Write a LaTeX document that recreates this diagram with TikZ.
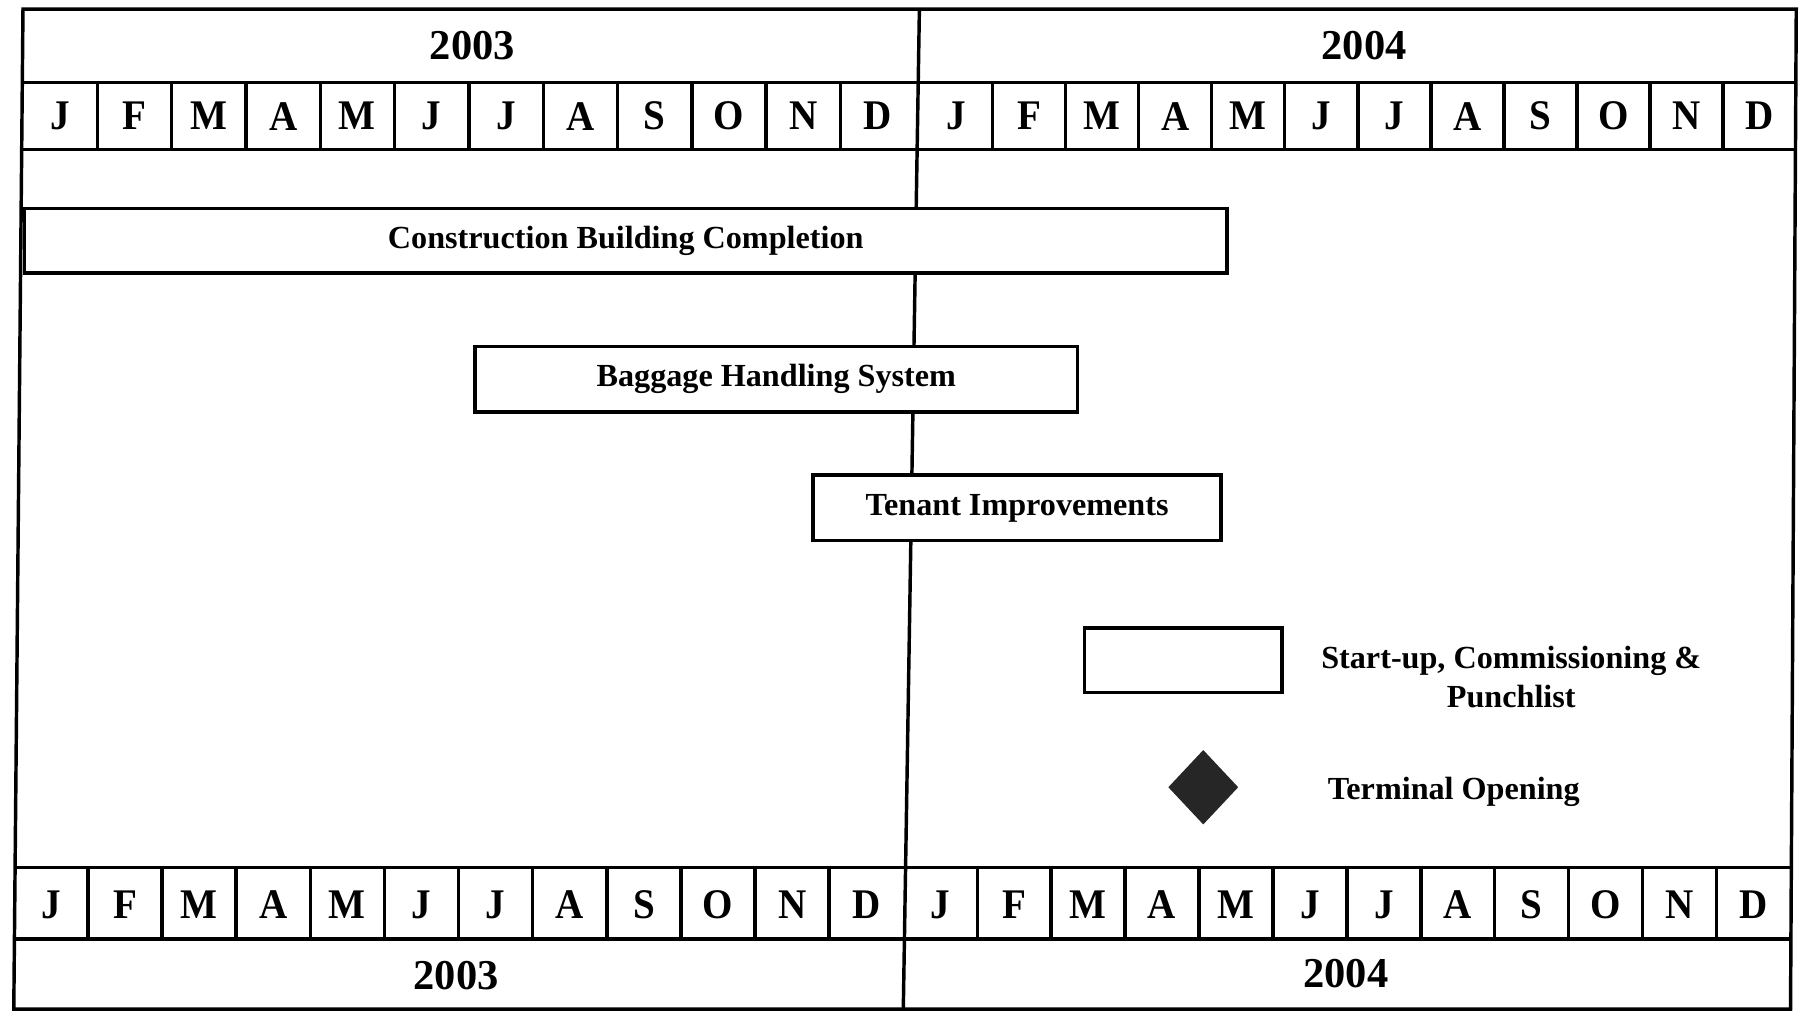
\documentclass[tikz,border=0pt]{standalone}
\usepackage{fontspec}
\setmainfont{Liberation Serif}
\usetikzlibrary{shapes.geometric}
\begin{document}
\begin{tikzpicture}[x=1pt,y=-1pt,line width=3pt,
  yr/.style={font=\fontsize{37}{40}\selectfont\bfseries,inner sep=0},
  mo/.style={font=\fontsize{34}{40}\selectfont\bfseries,inner sep=0,yscale=1.08},
  bar/.style={draw,fill=white,inner sep=0,font=\fontsize{28}{32}\selectfont\bfseries},
  lg/.style={font=\fontsize{28}{34}\selectfont\bfseries,align=center,inner sep=0},
  grid/.style={line width=3pt}]
\useasboundingbox (0,0) rectangle (1568,880);
\fill[white] (0,0) rectangle (1568,880);
% frame and year divider
\draw[grid] (20,8) -- (1563,8) -- (1558,878) -- (12,878) -- cycle;
\draw[grid] (800,8) -- (786,878);
% top rows
\draw[grid] (20,72) -- (1563,72);
\draw[grid] (19,130) -- (1562,130);
\node[yr] (y3t) at (411,40) {2003};
\node[yr] (y4t) at (1187,40) {2004};
\foreach \m [count=\i] in {J,F,M,A,M,J,J,A,S,O,N,D} {
  \pgfmathsetmacro\xa{20+(\i-0.5)*64.67}
  \pgfmathsetmacro\xb{800+(\i-0.5)*63.58}
  \node[mo] (ta\i) at (\xa,101) {\m};
  \node[mo] (tb\i) at (\xb,101) {\m};
}
\foreach \i in {1,...,11} {
  \pgfmathsetmacro\xa{20+\i*64.67}
  \pgfmathsetmacro\xb{800+\i*63.58}
  \draw[grid] (\xa,72) -- (\xa,130);
  \draw[grid] (\xb,72) -- (\xb,130);
}
% bottom rows
\draw[grid] (13,755) -- (1559,755);
\draw[grid] (12,817) -- (1558,817);
\node[yr] (y3b) at (397,849) {2003};
\node[yr] (y4b) at (1171,847) {2004};
\foreach \m [count=\i] in {J,F,M,A,M,J,J,A,S,O,N,D} {
  \pgfmathsetmacro\xa{12+(\i-0.5)*64.5}
  \pgfmathsetmacro\xb{786+(\i-0.5)*64.33}
  \node[mo] (ba\i) at (\xa,787) {\m};
  \node[mo] (bb\i) at (\xb,787) {\m};
}
\foreach \i in {1,...,11} {
  \pgfmathsetmacro\xa{12+\i*64.5}
  \pgfmathsetmacro\xb{786+\i*64.33}
  \draw[grid] (\xa,755) -- (\xa,817);
  \draw[grid] (\xb,755) -- (\xb,817);
}
% bars
\node[bar,minimum width=1046,minimum height=56,anchor=north west] (cbc) at (20,180) {Construction Building Completion};
\node[bar,minimum width=524,minimum height=57,anchor=north west] (bhs) at (412,300) {Baggage Handling System};
\node[bar,minimum width=355,minimum height=57,anchor=north west] (ti) at (706,412) {Tenant Improvements};
% legend
\node[draw,fill=white,minimum width=172,minimum height=56,anchor=north west] (lgbox) at (942,545) {};
\node[lg] (lgtext) at (1315,589) {Start-up, Commissioning \&\\Punchlist};
\node[diamond,fill=black!85,inner sep=0,minimum width=62,minimum height=66] (dia) at (1047,685) {};
\node[lg] (lgdia) at (1265,689) {Terminal Opening};
\end{tikzpicture}
\end{document}
